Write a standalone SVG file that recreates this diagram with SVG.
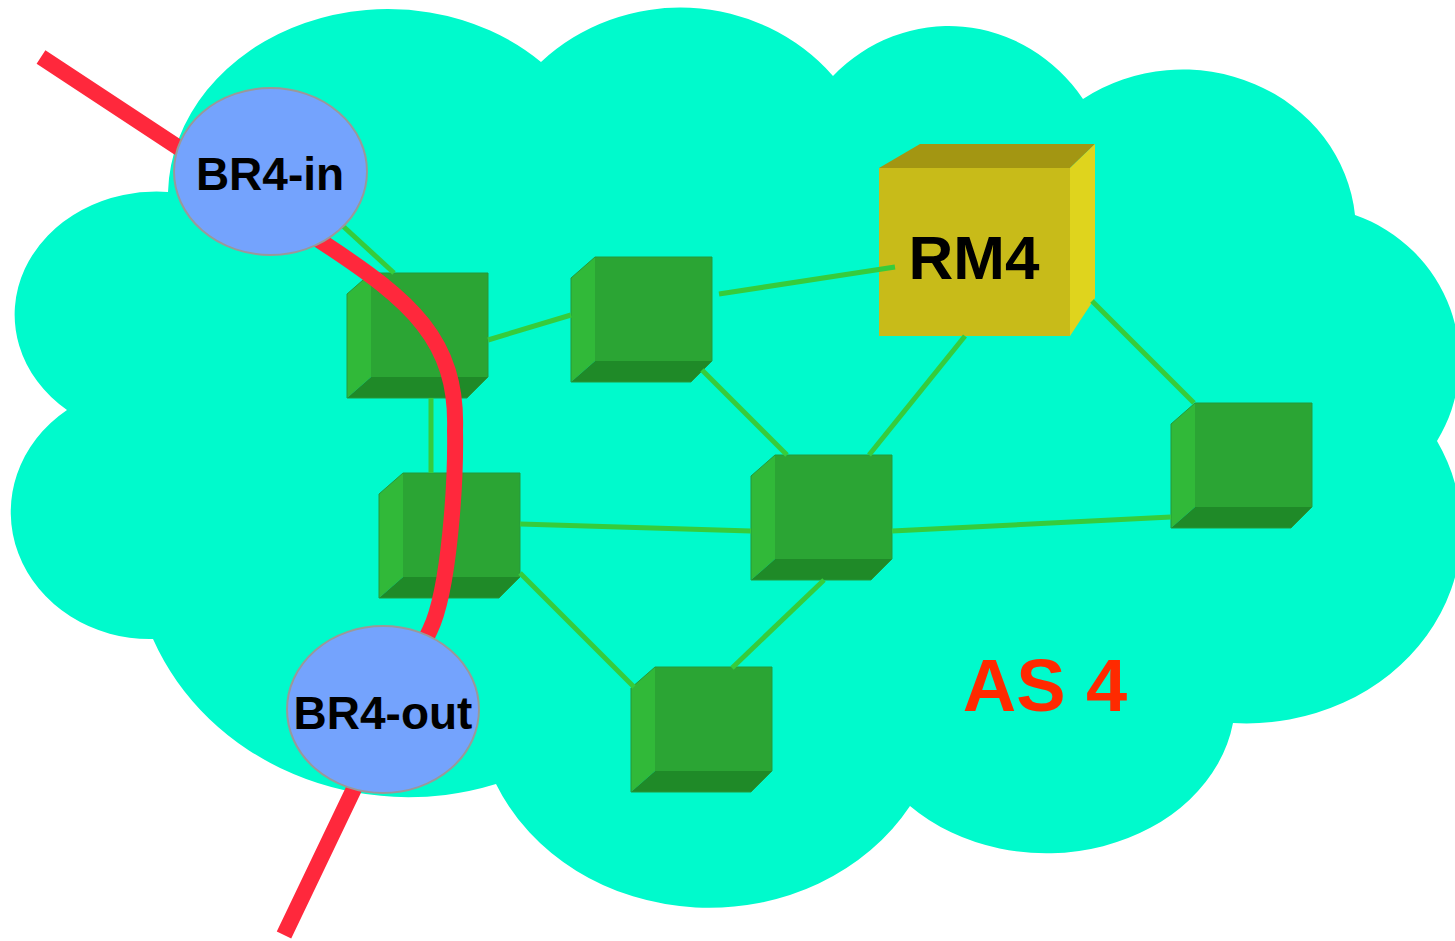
<svg xmlns="http://www.w3.org/2000/svg" width="1455" height="941" viewBox="0 0 1455 941">
  <defs>
    <style>
      .cloud { fill: #00facc; }
      .link { stroke: #36cc3c; stroke-width: 5; fill: none; }
      .front { fill: #2ba534; }
      .side { fill: #31b939; }
      .base { fill: #1f8a28; }
      .edge { fill: none; stroke: #25993a; stroke-width: 1; }
      .rm-front { fill: #c8bb19; }
      .rm-top { fill: #a39612; }
      .rm-side { fill: #dfd41d; }
      .path { stroke: #ff283c; stroke-width: 16; fill: none; stroke-linecap: butt; }
      .br { fill: #74a3fd; stroke: #999999; stroke-width: 2; }
      .label { font-family: "Liberation Sans", Arial, sans-serif; font-weight: bold; text-anchor: middle; fill: #000000; }
      .as { font-family: "Liberation Sans", Arial, sans-serif; font-weight: bold; text-anchor: middle; fill: #ff2a00; font-size: 74px; }
    </style>
    <!-- green router box, origin at the top-left corner of its front face -->
    <g id="router">
      <rect class="front" x="0" y="0" width="117" height="104"/>
      <polygon class="side" points="-24,21 0,0 0,104 -24,125"/>
      <polygon class="base" points="0,104 117,104 96,125 -24,125"/>
      <polygon class="edge" points="-24,21 0,0 117,0 117,104 96,125 -24,125"/>
    </g>
  </defs>

  <!-- AS cloud -->
  <path class="cloud" d="M 67,410
    A 142 123 0 0 1 168,192
    A 220 188 0 0 1 541,62
    A 200 193 0 0 1 833,76
    A 165 174 0 0 1 1083,99
    A 173 161 0 0 1 1355,215
    A 157 155 0 0 1 1437,441
    A 215 193 0 0 1 1233,723
    A 189 154 0 0 1 910,806
    A 233 207 0 0 1 496,784
    A 276 255 0 0 1 153,639
    A 139 127 0 0 1 67,410 Z"/>

  <!-- routers -->
  <g id="r1"><use href="#router" x="371" y="273"/></g>
  <g id="r2"><use href="#router" x="595" y="257"/></g>
  <g id="r3"><use href="#router" x="403" y="473"/></g>
  <g id="r4"><use href="#router" x="775" y="455"/></g>
  <g id="r5"><use href="#router" x="1195" y="403"/></g>
  <g id="r6"><use href="#router" x="655" y="667"/></g>

  <!-- route manager -->
  <g id="rm4">
    <rect class="rm-front" x="879" y="168" width="191" height="168"/>
    <polygon class="rm-top" points="879,168 920,144 1095,144 1070,168"/>
    <polygon class="rm-side" points="1070,168 1095,144 1095,298 1070,336"/>
    <text class="label" x="974" y="279" font-size="62">RM4</text>
  </g>

  <!-- intra-AS links -->
  <g id="links">
    <line class="link" x1="320" y1="205" x2="394" y2="273"/>
    <line class="link" x1="488" y1="340" x2="571" y2="315"/>
    <line class="link" x1="719" y1="294" x2="895" y2="267"/>
    <line class="link" x1="431" y1="398" x2="431" y2="473"/>
    <line class="link" x1="520" y1="524" x2="751" y2="531"/>
    <line class="link" x1="520" y1="573" x2="634" y2="687"/>
    <line class="link" x1="702" y1="370" x2="787" y2="455"/>
    <line class="link" x1="965" y1="336" x2="869" y2="455"/>
    <line class="link" x1="1092" y1="301" x2="1194" y2="403"/>
    <line class="link" x1="892" y1="531" x2="1171" y2="517"/>
    <line class="link" x1="824" y1="580" x2="732" y2="668"/>
  </g>

  <!-- traffic path crossing the AS -->
  <path id="transit" class="path" d="M 41,57 L 325,244 C 410,300 458,340 455,430 C 456,480 449.5,590 430,630 L 284,935"/>

  <!-- border routers -->
  <g id="br4-in">
    <ellipse class="br" cx="270.5" cy="171.5" rx="96.5" ry="83.5"/>
    <text class="label" x="270" y="190" font-size="46">BR4-in</text>
  </g>
  <g id="br4-out">
    <ellipse class="br" cx="383" cy="709.5" rx="96" ry="83.5"/>
    <text class="label" x="383" y="729" font-size="46">BR4-out</text>
  </g>

  <text id="as-label" class="as" x="1045" y="711">AS 4</text>
</svg>
